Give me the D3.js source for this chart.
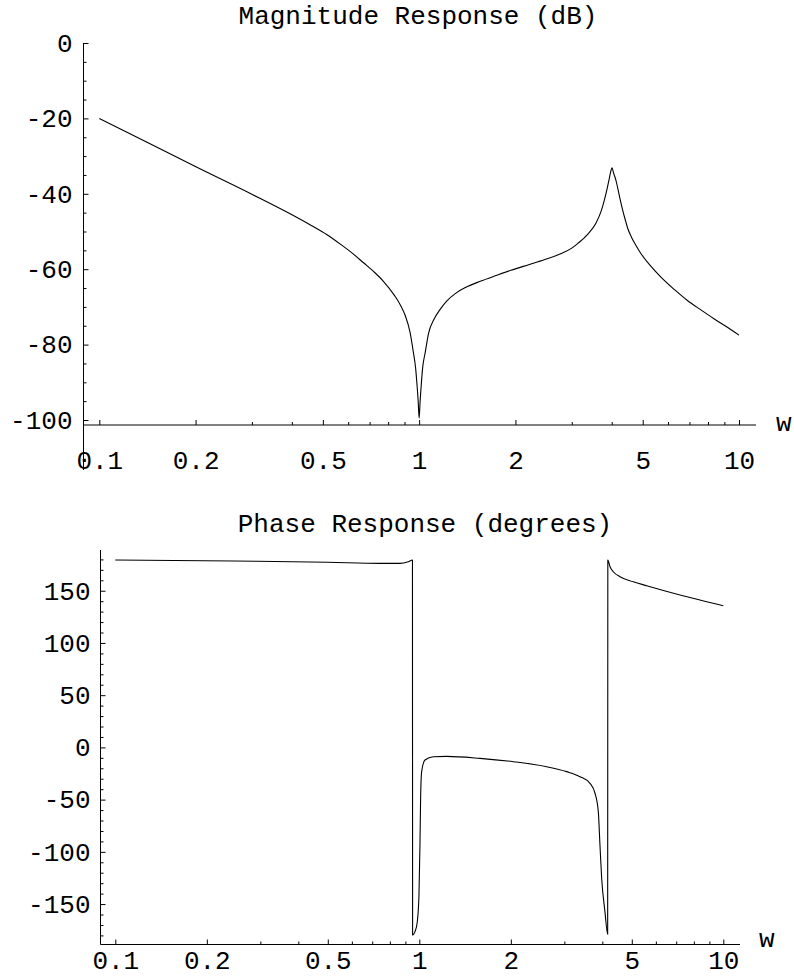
<!DOCTYPE html>
<html>
<head>
<meta charset="utf-8">
<script src="https://cdn.jsdelivr.net/npm/d3@7"></script>
<style>
  html, body { margin: 0; padding: 0; background: #fff; }
  svg { display: block; }
  text { font-family: "Liberation Mono", "Courier New", monospace; }
</style>
</head>
<body>
<svg id="chart" width="794" height="980"></svg>
<script>
// Magnitude response samples (frequency w, gain in dB)
const magW  = [0.1, 0.141, 0.199, 0.303, 0.395, 0.46, 0.514, 0.57, 0.623, 0.67, 0.720, 0.773, 0.838, 0.875, 0.904,
               0.937, 0.959, 0.975, 0.984, 0.993, 1.0, 1.007, 1.016, 1.025, 1.045, 1.07, 1.114, 1.16, 1.221, 1.30,
               1.40, 1.552, 1.75, 1.936, 2.2, 2.46, 2.77, 3.0, 3.13, 3.37, 3.57, 3.70, 3.79, 3.87, 3.93, 3.98,
               4.01, 4.05, 4.12, 4.18, 4.25, 4.33, 4.42, 4.49, 4.60, 4.71, 4.94, 5.30, 5.70, 6.30, 6.90, 7.6,
               8.37, 9.2, 10.0];
const magDb = [-20.0, -26.3, -32.7, -40.3, -45.3, -48.4, -50.8, -53.5, -56.0, -58.3, -60.6, -63.2, -67.0, -69.6, -72.2,
               -76.8, -82.0, -86.3, -90.3, -95.0, -99.5, -95.0, -90.3, -86.3, -82.0, -77.0, -73.2, -70.8, -68.4, -66.4,
               -64.8, -63.2, -61.6, -60.3, -58.8, -57.5, -55.9, -54.4, -53.2, -50.7, -47.8, -44.8, -41.8, -38.6, -36.0, -33.8,
               -33.1, -34.4, -36.3, -38.6, -41.5, -44.4, -47.2, -49.2, -51.3, -53.0, -55.9, -59.2, -62.1, -65.5, -68.3, -70.8,
               -73.2, -75.4, -77.5];

// Phase response samples (frequency w, phase in degrees, wrapped to ±180)
const phaseW   = [0.1, 0.245, 0.5, 0.742, 0.864, 0.92, 0.9495, 0.9505, 0.968, 0.985, 0.9975, 1.005, 1.010, 1.018, 1.044,
                  1.112, 1.230, 1.584, 2.039, 2.624, 3.053, 3.378, 3.643, 3.784, 3.880, 3.929, 3.98, 4.08, 4.165, 4.170,
                  4.240, 4.347, 4.573, 5.058, 5.598, 7.204, 10.0];
const phaseDeg = [179.4, 178.5, 177.3, 176.2, 176.2, 177.8, 179.4, -179.6, -176.4, -166.9, -141.3, -93.4, -48.8, -23.2, -12.1,
                  -8.9, -8.6, -10.5, -13.7, -18.5, -23.2, -28.0, -34.4, -43.9, -61.5, -93.4, -125.3, -157.2, -178.9, 179.4,
                  173.0, 168.2, 163.4, 158.6, 154.8, 145.9, 135.7];

// Tick values and labels
const freqTicks       = [0.1, 0.2, 0.5, 1, 2, 5, 10];
const freqTickLabels  = ["0.1", "0.2", "0.5", "1", "2", "5", "10"];
const freqMinorTicks  = [0.3, 0.4, 0.6, 0.7, 0.8, 0.9, 3, 4, 6, 7, 8, 9];
const magTicks        = [0, -20, -40, -60, -80, -100];
const magTickLabels   = ["0", "-20", "-40", "-60", "-80", "-100"];
const magMinorTicks   = [-5, -10, -15, -25, -30, -35, -45, -50, -55, -65, -70, -75, -85, -90, -95];
const phaseTicks      = [150, 100, 50, 0, -50, -100, -150];
const phaseTickLabels = ["150", "100", "50", "0", "-50", "-100", "-150"];
const phaseMinorTicks = [180, 170, 160, 140, 130, 120, 110, 90, 80, 70, 60, 40, 30, 20, 10,
                         -10, -20, -30, -40, -60, -70, -80, -90, -110, -120, -130, -140, -160, -170, -180];

const svg = d3.select("#chart");
const FONT = "Liberation Mono, Courier New, monospace";
const FS = 26;

function drawPanel(cfg) {
  const g = svg.append("g");
  const x = d3.scaleLog().domain([0.1, 10]).range(cfg.xRange);
  const y = d3.scaleLinear().domain([cfg.yDomain[0], cfg.yDomain[1]]).range(cfg.yRange);

  // title
  g.append("text")
    .attr("x", cfg.titleX).attr("y", cfg.titleY)
    .attr("text-anchor", "middle")
    .attr("font-size", FS)
    .attr("fill", "#000")
    .text(cfg.title);

  // axis lines
  g.append("line")
    .attr("x1", cfg.yAxisX).attr("x2", cfg.xAxisEnd)
    .attr("y1", cfg.xAxisY).attr("y2", cfg.xAxisY)
    .attr("stroke", "#000").attr("stroke-width", 1);
  g.append("line")
    .attr("x1", cfg.yAxisX).attr("x2", cfg.yAxisX)
    .attr("y1", cfg.yAxisTop).attr("y2", cfg.yAxisBottom)
    .attr("stroke", "#000").attr("stroke-width", 1);

  // x ticks (pointing up into the plot)
  g.append("g")
    .attr("transform", `translate(0,${cfg.xAxisY})`)
    .call(d3.axisBottom(x).tickValues(freqMinorTicks).tickSizeInner(-3).tickSizeOuter(0).tickFormat(""))
    .call(s => s.select(".domain").remove());
  g.append("g")
    .attr("transform", `translate(0,${cfg.xAxisY})`)
    .call(d3.axisBottom(x).tickValues(freqTicks).tickSizeInner(-5).tickSizeOuter(0)
      .tickPadding(cfg.xLabelPad)
      .tickFormat((d, i) => freqTickLabels[i]))
    .call(s => s.select(".domain").remove())
    .attr("font-size", FS).attr("font-family", FONT);

  // y ticks (pointing right into the plot)
  g.append("g")
    .attr("transform", `translate(${cfg.yAxisX},0)`)
    .call(d3.axisLeft(y).tickValues(cfg.yMinor).tickSizeInner(-3).tickSizeOuter(0).tickFormat(""))
    .call(s => s.select(".domain").remove());
  g.append("g")
    .attr("transform", `translate(${cfg.yAxisX},0)`)
    .call(d3.axisLeft(y).tickValues(cfg.yTicks).tickSizeInner(-5).tickSizeOuter(0)
      .tickPadding(cfg.yLabelPad)
      .tickFormat((d, i) => cfg.yLabels[i]))
    .call(s => s.select(".domain").remove())
    .attr("font-size", FS).attr("font-family", FONT);

  // axis variable label
  g.append("text")
    .attr("x", cfg.wX).attr("y", cfg.wY)
    .attr("font-size", FS).attr("fill", "#000")
    .text("w");

  // response curve
  const line = d3.line()
    .x((d, i) => x(cfg.xs[i]))
    .y((d, i) => y(cfg.ys[i]))
    .curve(cfg.curve);
  g.append("path")
    .datum(cfg.xs)
    .attr("d", line)
    .attr("fill", "none")
    .attr("stroke", "#000")
    .attr("stroke-width", 1.1)
    .attr("stroke-linejoin", "round");
}

drawPanel({
  title: "Magnitude Response (dB)", titleX: 418, titleY: 24,
  xRange: [99.3, 739], yDomain: [-100, 0], yRange: [420, 43],
  xAxisY: 425, xAxisEnd: 756, yAxisX: 83.5, yAxisTop: 43, yAxisBottom: 470,
  xLabelPad: 26, yLabelPad: 11,
  yTicks: magTicks, yLabels: magTickLabels, yMinor: magMinorTicks,
  wX: 776, wY: 431,
  xs: magW, ys: magDb,
  curve: d3.curveMonotoneX
});

drawPanel({
  title: "Phase Response (degrees)", titleX: 425, titleY: 532,
  xRange: [115.3, 723.3], yDomain: [-180, 180], yRange: [935.4, 559.4],
  xAxisY: 944.5, xAxisEnd: 740, yAxisX: 100.5, yAxisTop: 550, yAxisBottom: 944.5,
  xLabelPad: 6, yLabelPad: 10,
  yTicks: phaseTicks, yLabels: phaseTickLabels, yMinor: phaseMinorTicks,
  wX: 759, wY: 947,
  xs: phaseW, ys: phaseDeg,
  curve: d3.curveMonotoneX
});
</script>
</body>
</html>
